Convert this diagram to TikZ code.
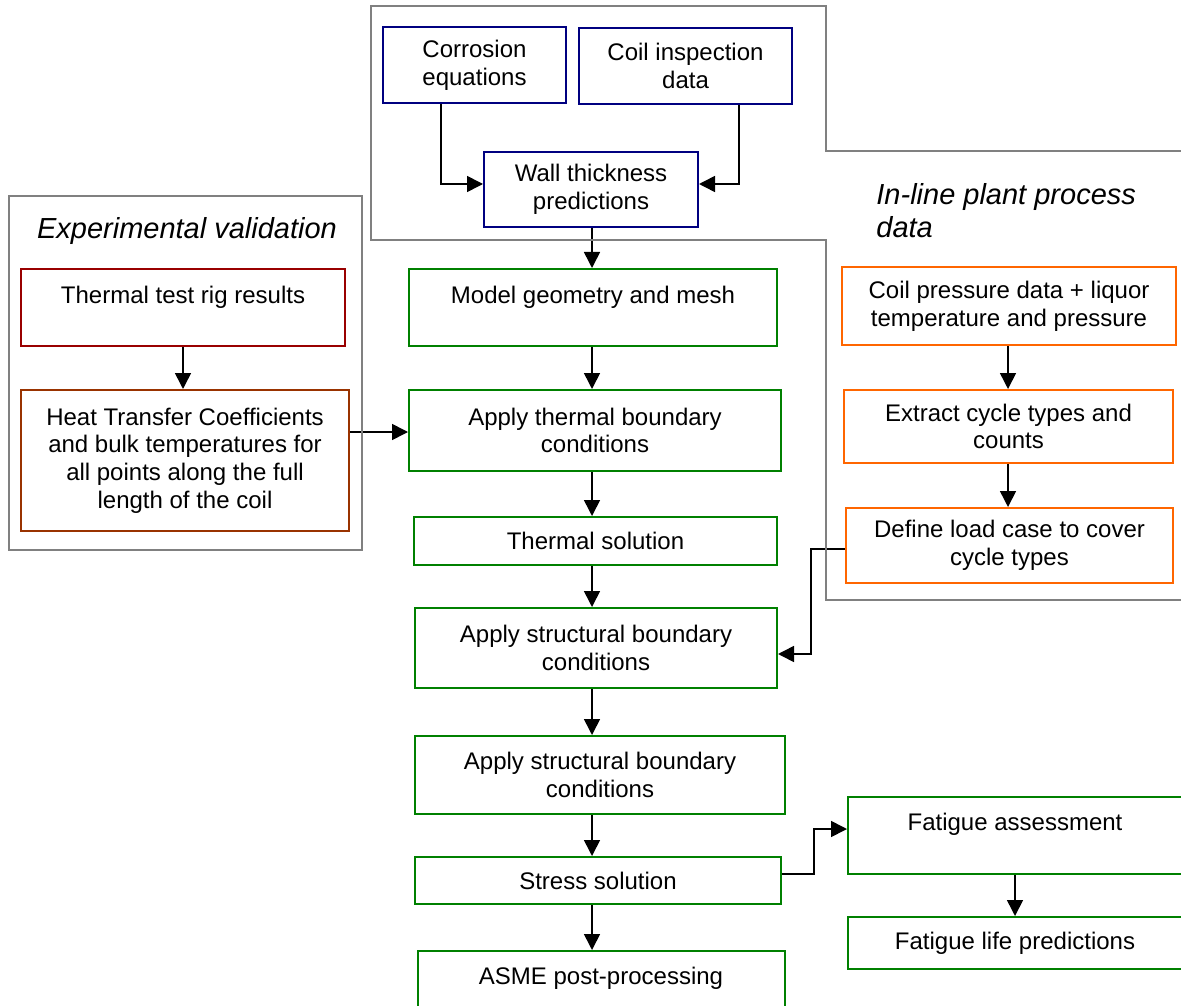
\documentclass[tikz,border=0pt]{standalone}
\usepackage{fontspec}
\setmainfont{Liberation Sans}
\usetikzlibrary{arrows.meta}
\definecolor{navyb}{RGB}{0,0,128}
\definecolor{rigred}{RGB}{153,0,0}
\definecolor{heatbr}{RGB}{153,51,0}
\definecolor{grn}{RGB}{0,128,0}
\definecolor{org}{RGB}{255,102,0}
\definecolor{gry}{RGB}{128,128,128}
\tikzset{
  bx/.style={draw, rectangle, line width=1pt, inner sep=0pt, align=center,
    font=\fontsize{12}{13.8}\selectfont},
  bluebox/.style={bx, draw=navyb},
  redbox/.style={bx, draw=rigred},
  brownbox/.style={bx, draw=heatbr},
  greenbox/.style={bx, draw=grn},
  orangebox/.style={bx, draw=org},
  txt/.style={inner sep=0pt, align=center, font=\fontsize{12}{13.8}\selectfont},
  ttl/.style={inner sep=0pt, align=left, font=\fontsize{14.5}{16.6}\selectfont\itshape},
  arr/.style={-{Triangle[length=8pt,width=8pt]}, line width=0.8pt},
  region/.style={draw=gry, line width=1pt}
}
\newcommand{\boxat}[7]{\node[#6, minimum width={(#4-#2)*0.5pt}, minimum height={(#5-#3)*0.5pt}] (#1) at ({(#2+#4)/2},{(#3+#5)/2}) {#7};}
\begin{document}
\begin{tikzpicture}[x=0.5pt,y=-0.5pt]
\useasboundingbox (0,0) rectangle (1181,1005);
\clip (0,0) rectangle (1181,1005);

% blue boxes
\boxat{corr}{383}{27}{566}{103}{bluebox}{Corrosion\\equations}
\boxat{coil}{579}{28}{792}{104}{bluebox}{Coil inspection\\data}
\boxat{wall}{484}{152}{698}{227}{bluebox}{Wall thickness\\predictions}

% experimental validation
\boxat{rig}{21}{269}{345}{346}{redbox}{}
\boxat{heat}{21}{390}{349}{531}{brownbox}{Heat Transfer Coefficients\\and bulk temperatures for\\all points along the full\\length of the coil}

% green chain
\boxat{geom}{409}{269}{777}{346}{greenbox}{}
\boxat{therm}{409}{390}{781}{471}{greenbox}{Apply thermal boundary\\conditions}
\boxat{thsol}{414}{517}{777}{565}{greenbox}{Thermal solution}
\boxat{sa}{415}{608}{777}{688}{greenbox}{Apply structural boundary\\conditions}
\boxat{sb}{415}{736}{785}{814}{greenbox}{Apply structural boundary\\conditions}
\boxat{stress}{415}{857}{781}{904}{greenbox}{Stress solution}
\boxat{asme}{418}{951}{785}{1028}{greenbox}{}
\boxat{fata}{848}{797}{1190}{874}{greenbox}{}
\boxat{fatl}{848}{917}{1190}{969}{greenbox}{}

% orange boxes
\boxat{cp}{842}{267}{1176}{345}{orangebox}{Coil pressure data + liquor\\temperature and pressure}
\boxat{ext}{844}{390}{1173}{463}{orangebox}{Extract cycle types and\\counts}
\boxat{def}{846}{508}{1173}{583}{orangebox}{Define load case to cover\\cycle types}

% top-aligned texts
\node[txt, anchor=base] (rigT) at (183,303) {Thermal test rig results};
\node[txt, anchor=base] (geomT) at (593,303) {Model geometry and mesh};
\node[txt, anchor=base] (asmeT) at (601,984) {ASME post-processing};
\node[txt, anchor=base] (fataT) at (1015,830) {Fatigue assessment};
\node[txt] (fatlT) at (1015,943) {Fatigue life predictions};

% titles
\node[ttl, anchor=base] (expT) at (187,239) {Experimental validation};
\node[ttl, anchor=north west] (plantT) at (876,183) {In-line plant process\\data};

% bend coordinates
\coordinate (k0) at (592,0);
\coordinate (k1) at (441,184);
\coordinate (k2) at (739,184);
\coordinate (k3) at (0,432);
\coordinate (k4) at (811,549);
\coordinate (k5) at (811,654);
\coordinate (k6) at (814,874);
\coordinate (k7) at (814,829);
\coordinate (k8) at (1008,0);

% connectors
\draw[arr] (corr.south -| k1) |- (k1 -| wall.west);
\draw[arr] (coil.south -| k2) |- (k2 -| wall.east);
\draw[arr] (wall.south -| k0) -- (k0 |- geom.north);
\draw[arr] (geom.south -| k0) -- (k0 |- therm.north);
\draw[arr] (therm.south -| k0) -- (k0 |- thsol.north);
\draw[arr] (thsol.south -| k0) -- (k0 |- sa.north);
\draw[arr] (sa.south -| k0) -- (k0 |- sb.north);
\draw[arr] (sb.south -| k0) -- (k0 |- stress.north);
\draw[arr] (stress.south -| k0) -- (k0 |- asme.north);
\draw[arr] (heat.east |- k3) -- (therm.west |- k3);
\draw[arr] (rig.south) -- (rig.south |- heat.north);
\draw[arr] (cp.south -| k8) -- (k8 |- ext.north);
\draw[arr] (ext.south -| k8) -- (k8 |- def.north);
\draw[arr] (def.west |- k4) -- (k4) -- (k5) -- (k5 -| sa.east);
\draw[arr] (stress.east |- k6) -- (k6) -- (k7) -- (k7 -| fata.west);
\draw[arr] (fata.south -| fataT.south) -- (fataT.south |- fatl.north);

% grey region outlines
\draw[region] (371,240) -- (371,6) -- (826,6) -- (826,151) -- (1200,151)
  -- (1200,600) -- (826,600) -- (826,240) -- cycle;
\draw[region] (9,196) rectangle (362,550);
\end{tikzpicture}
\end{document}
